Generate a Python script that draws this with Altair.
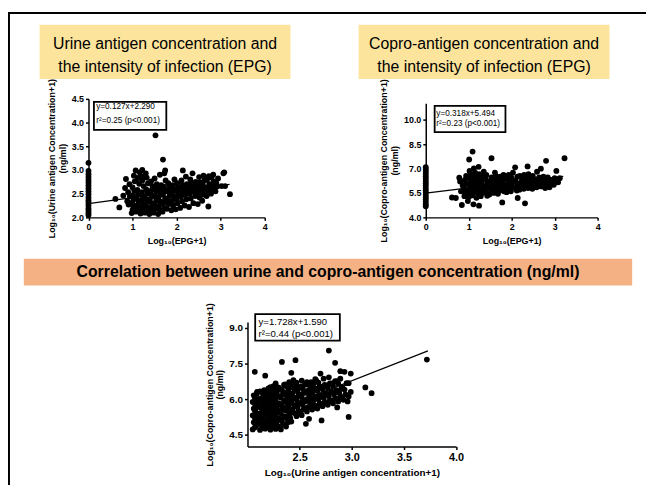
import altair as alt
import pandas as pd

W, H = 646, 480
FONT = "Liberation Sans, Arial, Helvetica, sans-serif"

# ---------------- data ----------------
panel_titles = [
    ["Urine antigen concentration and", "the intensity of infection (EPG)"],
    ["Copro-antigen concentration and", "the intensity of infection (EPG)"],
]
banner_title = "Correlation between urine and copro-antigen concentration (ng/ml)"

# Panel 1: log10(EPG+1) vs log10(urine antigen+1)
urine_at_epg_zero = [2.05, 2.09, 2.14, 2.19, 2.25, 2.31, 2.36, 2.42, 2.49, 2.55,
                     2.61, 2.67, 2.73, 2.79, 2.85, 2.91, 2.98, 3.15]
epg_urine_points = [
    (0.61, 2.39), (0.70, 2.21), (0.79, 2.46), (0.83, 2.62), (0.85, 2.81), (0.88, 2.34), (0.90, 2.53), (0.91, 2.27), (0.93, 2.70), (0.94, 2.44),
    (0.98, 2.09), (1.00, 2.16), (1.02, 2.23), (0.99, 2.31), (1.03, 2.38), (1.01, 2.47), (1.04, 2.56), (1.00, 2.63), (1.05, 2.76), (1.03, 2.88), (1.07, 2.99),
    (1.08, 2.12), (1.12, 2.19), (1.10, 2.26), (1.14, 2.33), (1.09, 2.41), (1.13, 2.49), (1.11, 2.58), (1.15, 2.71), (1.12, 2.83), (1.16, 2.95),
    (1.18, 2.08), (1.22, 2.15), (1.20, 2.22), (1.24, 2.29), (1.19, 2.36), (1.23, 2.44), (1.21, 2.53), (1.25, 2.66), (1.22, 2.78), (1.20, 2.87), (1.22, 3.00),
    (1.28, 2.10), (1.32, 2.17), (1.30, 2.25), (1.34, 2.33), (1.29, 2.40), (1.33, 2.50), (1.31, 2.59), (1.35, 2.72), (1.32, 2.84), (1.30, 2.93),
    (1.38, 2.07), (1.42, 2.14), (1.40, 2.21), (1.44, 2.30), (1.39, 2.38), (1.43, 2.47), (1.41, 2.56), (1.45, 2.66), (1.42, 2.76),
    (1.48, 2.10), (1.52, 2.18), (1.50, 2.26), (1.54, 2.35), (1.49, 2.44), (1.53, 2.55), (1.51, 2.62), (1.55, 2.70), (1.50, 2.82), (1.52, 3.73),
    (1.58, 2.07), (1.62, 2.15), (1.60, 2.24), (1.64, 2.33), (1.59, 2.42), (1.63, 2.52), (1.61, 2.60), (1.65, 2.68), (1.62, 2.90),
    (1.68, 2.12), (1.72, 2.20), (1.70, 2.30), (1.74, 2.40), (1.69, 2.48), (1.73, 2.58), (1.71, 2.65), (1.75, 2.78), (1.72, 2.93), (1.74, 2.99), (1.69, 3.22),
    (1.78, 2.18), (1.82, 2.28), (1.80, 2.36), (1.84, 2.46), (1.79, 2.55), (1.83, 2.62), (1.81, 2.72),
    (1.88, 2.15), (1.92, 2.25), (1.90, 2.35), (1.94, 2.45), (1.89, 2.52), (1.93, 2.60), (1.91, 2.68), (1.95, 2.80),
    (1.98, 2.17), (2.02, 2.30), (2.00, 2.40), (2.04, 2.50), (1.99, 2.56), (2.03, 2.63), (2.01, 2.72),
    (2.08, 2.20), (2.12, 2.34), (2.10, 2.44), (2.14, 2.52), (2.09, 2.60), (2.13, 2.68), (2.11, 2.78), (2.14, 2.99),
    (2.18, 2.25), (2.22, 2.38), (2.20, 2.48), (2.24, 2.55), (2.19, 2.62), (2.23, 2.70), (2.21, 2.86),
    (2.28, 2.22), (2.32, 2.40), (2.30, 2.50), (2.34, 2.57), (2.29, 2.64), (2.33, 2.72), (2.31, 2.80), (2.36, 2.93),
    (2.38, 2.30), (2.42, 2.45), (2.40, 2.54), (2.44, 2.60), (2.39, 2.67), (2.43, 2.75),
    (2.48, 2.28), (2.52, 2.42), (2.50, 2.52), (2.54, 2.60), (2.49, 2.66), (2.53, 2.74), (2.51, 2.85),
    (2.58, 2.35), (2.62, 2.48), (2.60, 2.56), (2.64, 2.63), (2.59, 2.70), (2.63, 2.78), (2.61, 2.88),
    (2.72, 2.23), (2.68, 2.45), (2.72, 2.55), (2.70, 2.62), (2.74, 2.70), (2.69, 2.80), (2.73, 2.87),
    (2.78, 2.50), (2.82, 2.60), (2.80, 2.68), (2.84, 2.76), (2.79, 2.84), (2.83, 2.90),
    (2.88, 2.55), (2.92, 2.65), (2.90, 2.72), (2.94, 2.82),
    (3.02, 2.66), (3.06, 2.93), (3.10, 2.66), (3.08, 2.95), (3.21, 2.49),
]

# Panel 2: log10(EPG+1) vs log10(copro-antigen+1)
copro_at_epg_zero = [4.68, 4.80, 4.95, 5.10, 5.24, 5.38, 5.52, 5.66, 5.80, 5.95,
                     6.10, 6.24, 6.38, 6.52, 6.66, 6.80, 6.94, 7.08]
epg_copro_points = [
    (0.61, 5.22), (0.70, 5.19), (0.78, 6.43), (0.80, 6.20), (0.84, 4.76), (0.82, 5.60), (0.86, 5.95),
    (0.90, 5.30), (0.92, 5.55), (0.89, 5.80), (0.93, 6.05), (0.91, 6.30), (0.94, 6.55),
    (0.98, 5.00), (1.00, 5.25), (1.02, 5.45), (0.99, 5.65), (1.03, 5.85), (1.01, 6.05), (1.04, 6.25), (1.00, 6.45), (1.05, 6.65), (1.02, 6.85), (1.01, 7.55),
    (1.09, 8.04), (1.11, 4.80), (1.08, 5.35), (1.12, 5.55), (1.10, 5.75), (1.14, 5.95), (1.09, 6.15), (1.13, 6.35), (1.11, 6.55), (1.15, 6.75), (1.12, 7.00),
    (1.24, 4.72), (1.18, 5.20), (1.22, 5.45), (1.20, 5.65), (1.24, 5.85), (1.19, 6.05), (1.23, 6.25), (1.21, 6.45), (1.25, 6.65), (1.23, 7.10),
    (1.28, 5.30), (1.32, 5.50), (1.30, 5.70), (1.34, 5.90), (1.29, 6.10), (1.33, 6.30), (1.31, 6.55), (1.35, 6.80),
    (1.43, 5.33), (1.38, 5.55), (1.42, 5.75), (1.40, 5.95), (1.44, 6.15), (1.39, 6.40), (1.41, 6.60),
    (1.48, 5.40), (1.52, 5.60), (1.50, 5.80), (1.54, 6.00), (1.49, 6.20), (1.53, 6.45), (1.53, 7.63),
    (1.58, 5.50), (1.62, 5.70), (1.60, 5.90), (1.64, 6.10), (1.59, 6.30), (1.63, 6.55), (1.61, 6.75),
    (1.68, 5.45), (1.72, 5.65), (1.70, 5.85), (1.74, 6.05), (1.69, 6.25), (1.73, 6.50),
    (1.78, 4.92), (1.82, 5.60), (1.80, 5.80), (1.84, 6.00), (1.79, 6.20), (1.83, 6.40), (1.81, 6.60),
    (1.88, 5.55), (1.92, 5.75), (1.90, 5.95), (1.94, 6.15), (1.89, 6.35), (1.93, 6.60),
    (1.98, 5.60), (2.02, 5.80), (2.00, 6.00), (2.04, 6.20), (1.99, 6.45), (2.03, 6.75), (2.08, 7.07),
    (2.14, 5.19), (2.12, 5.65), (2.10, 5.85), (2.14, 6.05), (2.09, 6.25), (2.13, 6.50),
    (2.18, 5.70), (2.22, 5.90), (2.20, 6.10), (2.24, 6.30), (2.19, 6.55),
    (2.31, 4.86), (2.28, 5.75), (2.32, 5.95), (2.30, 6.15), (2.34, 6.35), (2.29, 6.60), (2.37, 7.13),
    (2.38, 5.80), (2.42, 6.00), (2.40, 6.20), (2.44, 6.40), (2.39, 6.65),
    (2.48, 5.75), (2.52, 5.95), (2.50, 6.15), (2.54, 6.35), (2.49, 6.55),
    (2.58, 5.85), (2.62, 6.05), (2.60, 6.25), (2.64, 6.45), (2.59, 6.80),
    (2.68, 5.90), (2.72, 6.10), (2.70, 6.30), (2.74, 6.50), (2.68, 6.99),
    (2.78, 5.80), (2.82, 6.00), (2.80, 6.20), (2.84, 6.45), (2.80, 7.47),
    (2.88, 5.85), (2.92, 6.10), (2.90, 6.30),
    (2.98, 6.00), (3.02, 6.20), (3.00, 6.40), (3.04, 6.85),
    (3.08, 6.15), (3.12, 6.40), (3.23, 7.63),
]

# Panel 3: log10(urine antigen+1) vs log10(copro-antigen+1)
urine_copro_points = [
    (2.05, 4.72), (2.08, 4.85), (2.06, 5.02), (2.09, 5.15), (2.05, 5.31), (2.08, 5.44), (2.06, 5.60), (2.10, 5.73), (2.05, 5.88), (2.08, 6.01), (2.06, 6.16), (2.09, 6.30), (2.07, 7.15),
    (2.12, 4.70), (2.14, 4.92), (2.11, 5.08), (2.13, 5.25), (2.12, 5.40), (2.15, 5.55), (2.11, 5.70), (2.14, 5.86), (2.12, 6.02), (2.15, 6.18), (2.12, 6.33),
    (2.17, 4.75), (2.19, 4.88), (2.18, 5.04), (2.20, 5.18), (2.17, 5.34), (2.19, 5.50), (2.18, 5.64), (2.20, 5.80), (2.17, 5.95), (2.19, 6.12), (2.18, 6.28), (2.20, 6.45), (2.17, 6.99),
    (2.22, 4.71), (2.24, 4.95), (2.23, 5.10), (2.25, 5.26), (2.22, 5.42), (2.24, 5.58), (2.23, 5.74), (2.25, 5.88), (2.22, 6.04), (2.24, 6.20), (2.23, 6.36), (2.25, 6.55),
    (2.27, 4.74), (2.29, 4.86), (2.28, 5.02), (2.30, 5.20), (2.27, 5.36), (2.29, 5.52), (2.28, 5.66), (2.30, 5.82), (2.27, 5.98), (2.29, 6.14), (2.28, 6.30), (2.30, 6.48), (2.27, 6.66),
    (2.32, 4.72), (2.34, 4.92), (2.33, 5.08), (2.35, 5.24), (2.32, 5.40), (2.34, 5.56), (2.33, 5.72), (2.35, 5.90), (2.32, 6.06), (2.34, 6.22), (2.33, 6.40), (2.35, 6.60), (2.33, 7.57),
    (2.37, 4.84), (2.39, 5.02), (2.38, 5.18), (2.40, 5.36), (2.37, 5.52), (2.39, 5.68), (2.38, 5.84), (2.40, 6.00), (2.37, 6.16), (2.39, 6.34), (2.38, 6.52), (2.40, 6.72),
    (2.42, 5.05), (2.44, 5.42), (2.43, 5.58), (2.45, 5.74), (2.42, 5.90), (2.44, 6.08), (2.43, 6.24), (2.45, 6.42), (2.42, 6.60), (2.44, 6.80), (2.42, 7.11),
    (2.47, 5.28), (2.49, 5.50), (2.48, 5.66), (2.50, 5.82), (2.47, 5.98), (2.49, 6.14), (2.48, 6.32), (2.50, 6.50), (2.47, 6.70), (2.46, 7.64),
    (2.52, 5.32), (2.54, 5.58), (2.53, 5.76), (2.55, 5.92), (2.52, 6.08), (2.54, 6.26), (2.53, 6.44), (2.55, 6.62), (2.52, 6.78),
    (2.56, 4.96), (2.57, 5.48), (2.59, 5.17), (2.58, 5.66), (2.60, 5.84), (2.57, 6.00), (2.59, 6.18), (2.58, 6.36), (2.60, 6.54), (2.57, 6.72),
    (2.62, 5.56), (2.64, 5.74), (2.63, 5.92), (2.65, 6.10), (2.62, 6.26), (2.64, 6.44), (2.63, 6.62), (2.65, 6.84),
    (2.67, 5.60), (2.69, 5.80), (2.68, 5.98), (2.70, 6.16), (2.67, 6.34), (2.69, 6.52), (2.68, 6.70), (2.70, 7.08), (2.71, 5.10),
    (2.72, 5.70), (2.74, 5.88), (2.73, 6.06), (2.75, 6.24), (2.72, 6.42), (2.74, 6.60), (2.73, 6.86),
    (2.77, 5.76), (2.79, 5.94), (2.78, 6.12), (2.80, 6.30), (2.77, 6.48), (2.79, 6.66), (2.78, 6.92), (2.78, 8.05),
    (2.82, 5.82), (2.84, 6.02), (2.83, 6.20), (2.85, 6.38), (2.82, 6.56), (2.84, 6.76), (2.84, 7.53), (2.86, 5.65),
    (2.87, 5.90), (2.89, 6.08), (2.88, 6.26), (2.90, 6.46), (2.87, 6.66), (2.89, 6.86), (2.89, 7.18),
    (2.92, 5.97), (2.94, 6.20), (2.93, 6.40), (2.95, 6.67), (2.93, 7.15),
    (2.97, 5.25), (2.97, 6.11), (2.99, 6.30), (2.97, 6.67), (2.99, 7.08), (2.96, 5.90),
    (3.13, 6.49), (3.19, 6.25), (3.72, 7.67),
    # further samples inside the dense cluster
    (2.07, 4.80), (2.10, 4.95), (2.07, 5.22), (2.10, 5.37), (2.07, 5.52), (2.09, 5.66), (2.07, 5.80), (2.10, 5.95), (2.07, 6.08), (2.09, 6.23),
    (2.14, 4.80), (2.16, 5.00), (2.15, 5.16), (2.14, 5.33), (2.16, 5.47), (2.13, 5.62), (2.16, 5.78), (2.14, 5.94), (2.16, 6.10), (2.15, 6.26), (2.16, 6.38),
    (2.21, 4.80), (2.21, 5.00), (2.21, 5.34), (2.22, 5.66), (2.21, 5.95), (2.21, 6.28), (2.22, 6.50),
    (2.26, 4.80), (2.26, 5.14), (2.26, 5.44), (2.26, 5.75), (2.26, 6.06), (2.26, 6.40), (2.27, 6.58),
    (2.31, 4.82), (2.31, 5.15), (2.31, 5.46), (2.31, 5.78), (2.31, 6.12), (2.31, 6.40),
    (2.36, 4.94), (2.36, 5.28), (2.36, 5.62), (2.36, 5.94), (2.36, 6.26), (2.36, 6.62),
    (2.41, 5.20), (2.41, 5.50), (2.41, 5.82), (2.41, 6.16), (2.41, 6.50),
    (2.46, 5.40), (2.46, 5.74), (2.46, 6.06), (2.46, 6.40), (2.46, 6.60),
    (2.51, 5.45), (2.51, 5.84), (2.51, 6.18), (2.51, 6.54),
    (2.56, 5.58), (2.56, 5.92), (2.56, 6.28), (2.56, 6.62),
    (2.61, 5.66), (2.61, 6.02), (2.61, 6.36), (2.61, 6.72),
    (2.66, 5.70), (2.66, 6.08), (2.66, 6.44), (2.66, 6.78),
    (2.71, 5.80), (2.71, 6.16), (2.71, 6.52),
    (2.76, 5.86), (2.76, 6.22), (2.76, 6.58),
    (2.81, 5.94), (2.81, 6.30), (2.81, 6.66),
    (2.86, 6.00), (2.86, 6.36), (2.86, 6.76),
    (2.91, 6.08), (2.91, 6.50),
]

fit_slope = [0.127, 0.318, 1.728]
fit_intercept = [2.290, 5.494, 1.590]
fit_x_from = [0.0, 0.0, 2.05]
fit_x_to = [3.2, 3.2, 3.73]
fit_text = [
    ["y=0.127x+2.290", "r\u00b2=0.25 (p<0.001)"],
    ["y=0.318x+5.494", "r\u00b2=0.23 (p<0.001)"],
    ["y=1.728x+1.590", "r\u00b2=0.44 (p<0.001)"],
]

x_titles = ["Log\u2081\u2080(EPG+1)", "Log\u2081\u2080(EPG+1)", "Log\u2081\u2080(Urine antigen concentration+1)"]
y_titles = [["Log\u2081\u2080(Urine antigen Concentration+1)", "(ng/ml)"],
            ["Log\u2081\u2080(Copro-antigen Concentration+1)", "(ng/ml)"],
            ["Log\u2081\u2080(Copro-antigen Concentration+1)", "(ng/ml)"]]
x_ticks = [[0, 1, 2, 3, 4], [0, 1, 2, 3, 4], [2.5, 3.0, 3.5, 4.0]]
y_ticks = [[2.0, 2.5, 3.0, 3.5, 4.0, 4.5], [4.0, 5.5, 7.0, 8.5, 10.0], [4.5, 6.0, 7.5, 9.0]]
x_domains = [[0, 4], [0, 4], [2, 4]]
y_domains = [[2.0, 4.5], [4.0, 11.0], [4.0, 9.25]]

# ---------------- layout (pixels inside the chart) ----------------
x_ranges = [[81.5, 260], [423, 597], [242.5, 453.7]]
y_ranges = [[209, 89], [209, 93.5], [441, 315]]
x_fmt = ["d", "d", ".1f"]
lab_x_size = [9, 9, 11]
lab_y_size = [9, 9, 10]
tx_size = [9, 9, 10]
ty_size = [9, 9, 9]
ann_box = [(87, 160.3, 92, 120.3), (432, 503.7, 96, 122.7), (250.3, 336, 307, 333.7)]
ann_text_pos = [(89.3, 97, 111.3), (433.7, 104.3, 114.7), (253.7, 314.7, 327)]
ann_size = [8.3, 8.3, 9.7]
pt_size = [35, 35, 34]

dummy = pd.DataFrame({"k": [0]})


def scales(i):
    xs = alt.Scale(domain=x_domains[i], range=x_ranges[i], nice=False, zero=False)
    ys = alt.Scale(domain=y_domains[i], range=y_ranges[i], nice=False, zero=False)
    return xs, ys


def fit_line(i):
    xs, ys = scales(i)
    x0, x1 = fit_x_from[i], fit_x_to[i]
    line_df = pd.DataFrame({"x": [x0, x1],
                            "y": [fit_slope[i] * x0 + fit_intercept[i], fit_slope[i] * x1 + fit_intercept[i]]})
    return alt.Chart(line_df).mark_line(color="black", strokeWidth=1.2).encode(
        x=alt.X("x:Q", scale=xs, axis=None), y=alt.Y("y:Q", scale=ys, axis=None))


def scatter(i, df):
    xs, ys = scales(i)
    xaxis = alt.Axis(orient="bottom", offset=y_ranges[i][0] - H, values=x_ticks[i], format=x_fmt[i],
                     grid=False, domainColor="black", domainWidth=1.5, tickColor="black", tickWidth=1.5,
                     tickSize=3, labelFont=FONT, labelFontSize=lab_x_size[i], labelFontWeight="bold",
                     labelColor="black", labelPadding=2, labelFlush=False, labelOverlap=False,
                     title=x_titles[i], titleFont=FONT, titleFontSize=tx_size[i], titleFontWeight="bold",
                     titleColor="black", titlePadding=5)
    yaxis = alt.Axis(orient="left", offset=-x_ranges[i][0], values=y_ticks[i], format=".1f",
                     grid=False, domainColor="black", domainWidth=1.5, tickColor="black", tickWidth=1.5,
                     tickSize=3, labelFont=FONT, labelFontSize=lab_y_size[i], labelFontWeight="bold",
                     labelColor="black", labelPadding=2, labelFlush=False, labelOverlap=False,
                     title=y_titles[i], titleFont=FONT, titleFontSize=ty_size[i], titleFontWeight="bold",
                     titleColor="black", titlePadding=4)
    return alt.Chart(df).mark_circle(size=pt_size[i], color="black", opacity=1).encode(
        x=alt.X("x:Q", scale=xs, axis=xaxis), y=alt.Y("y:Q", scale=ys, axis=yaxis))


def annotation(i):
    bx0, bx1, by0, by1 = ann_box[i]
    tx, ty1, ty2 = ann_text_pos[i]
    box = alt.Chart(dummy).mark_rect(fill="white", stroke="black", strokeWidth=1.8).encode(
        x=alt.value(bx0), x2=alt.value(bx1), y=alt.value(by0), y2=alt.value(by1))
    t1 = alt.Chart(dummy).mark_text(align="left", baseline="middle", font=FONT, fontSize=ann_size[i],
                                    color="black").encode(x=alt.value(tx), y=alt.value(ty1),
                                                          text=alt.value(fit_text[i][0]))
    t2 = alt.Chart(dummy).mark_text(align="left", baseline="middle", font=FONT, fontSize=ann_size[i],
                                    color="black").encode(x=alt.value(tx), y=alt.value(ty2),
                                                          text=alt.value(fit_text[i][1]))
    return [box, t1, t2]


df1 = pd.DataFrame([(0.0, v) for v in urine_at_epg_zero] + epg_urine_points, columns=["x", "y"])
df2 = pd.DataFrame([(0.0, v) for v in copro_at_epg_zero] + epg_copro_points, columns=["x", "y"])
df3 = pd.DataFrame(urine_copro_points, columns=["x", "y"])

# decorations
frame_top = alt.Chart(dummy).mark_rule(color="black", strokeWidth=2).encode(
    x=alt.value(0), x2=alt.value(W), y=alt.value(2))
frame_left = alt.Chart(dummy).mark_rule(color="black", strokeWidth=2).encode(
    x=alt.value(1), y=alt.value(1), y2=alt.value(H))

title_boxes = []
for (bx0, bx1), lines in zip([(32, 286), (355, 609)], panel_titles):
    title_boxes.append(alt.Chart(dummy).mark_rect(fill="#FCE49C").encode(
        x=alt.value(bx0), x2=alt.value(bx1), y=alt.value(14), y2=alt.value(69)))
    for ly, txt in zip([33.7, 56.6], lines):
        title_boxes.append(alt.Chart(dummy).mark_text(align="center", baseline="middle", font=FONT,
                                                      fontSize=16, color="black").encode(
            x=alt.value((bx0 + bx1) / 2), y=alt.value(ly), text=alt.value(txt)))

banner = alt.Chart(dummy).mark_rect(fill="#F4B183").encode(
    x=alt.value(16), x2=alt.value(632), y=alt.value(251), y2=alt.value(278))
banner_text = alt.Chart(dummy).mark_text(align="center", baseline="middle", font=FONT, fontSize=16,
                                         fontWeight="bold", color="black").encode(
    x=alt.value(324), y=alt.value(264.5), text=alt.value(banner_title))

layers = [frame_top, frame_left] + title_boxes + [banner, banner_text]
layers += [fit_line(0), fit_line(1), fit_line(2)]
layers += [scatter(0, df1), scatter(1, df2), scatter(2, df3)]
for i in range(3):
    layers += annotation(i)

chart = alt.layer(*layers).resolve_scale(x="independent", y="independent").properties(
    width=W, height=H, padding=0, autosize=alt.AutoSizeParams(type="none"), background="white"
).configure_view(stroke=None)

chart.save("out.html", embed_options={"renderer": "svg", "actions": False})
